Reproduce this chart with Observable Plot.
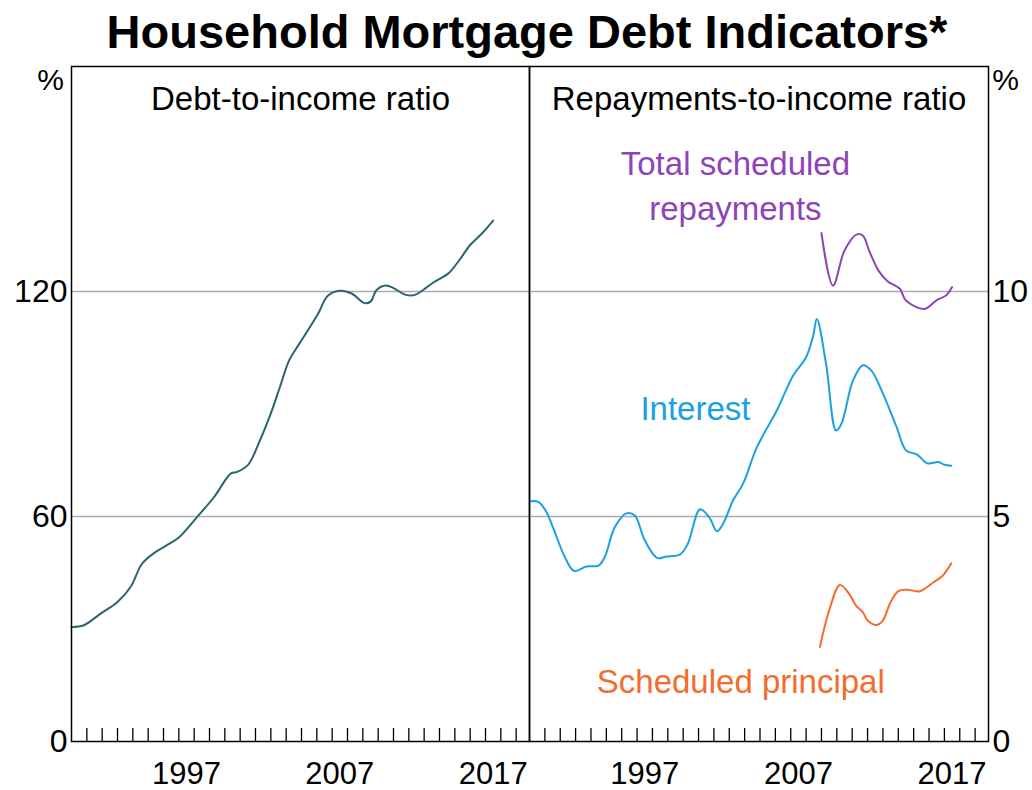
<!DOCTYPE html>
<html>
<head>
<meta charset="utf-8">
<script src="https://cdn.jsdelivr.net/npm/d3@7"></script>
<script src="https://cdn.jsdelivr.net/npm/@observablehq/plot@0.6"></script>
<style>
  html, body { margin: 0; padding: 0; background: #fff; }
  #wrap { position: relative; width: 1032px; height: 790px; font-family: "Liberation Sans", Arial, sans-serif; }
  #title { position: absolute; left: 11px; top: 8px; width: 1032px; text-align: center; font-weight: bold; font-size: 47px; line-height: 47px; color: #000; }
  .panel { position: absolute; top: 60px; }
</style>
</head>
<body>
<div id="wrap">
  <div id="title">Household Mortgage Debt Indicators*</div>
  <div id="left" class="panel" style="left:0px"></div>
  <div id="right" class="panel" style="left:528px"></div>
</div>
<script>
// ---------- data ----------
const dtiYears = [1990.0, 1990.8, 1991.9, 1993.0, 1993.85, 1994.6, 1995.4, 1996.2, 1997.0, 1998.2, 1999.3, 2000.4, 2000.8, 2001.5, 2002.3, 2003.0, 2003.6, 2004.2, 2004.8, 2005.5, 2006.1, 2006.7, 2007.5, 2008.3, 2009.1, 2009.5, 2009.9, 2010.5, 2011.0, 2011.8, 2012.4, 2013.0, 2013.6, 2014.6, 2015.3, 2016.0, 2016.8, 2017.5];
const dtiValues = [30.5, 31.0, 34.1, 37.2, 41.2, 47.4, 50.3, 52.3, 54.4, 59.9, 65.2, 71.5, 71.9, 73.7, 80.4, 87.5, 94.6, 101.7, 105.7, 110.2, 114.2, 118.8, 120.2, 119.4, 116.9, 117.3, 120.4, 121.6, 120.9, 119.1, 119.1, 120.6, 122.4, 124.9, 128.4, 132.4, 135.6, 138.9];

const interestYears = [1990.1, 1990.6, 1991.1, 1991.6, 1992.3, 1992.9, 1993.7, 1994.5, 1994.9, 1995.55, 1996.3, 1996.85, 1997.5, 1998.3, 1998.9, 1999.8, 2000.3, 2001.1, 2001.7, 2002.2, 2002.6, 2003.25, 2003.9, 2004.8, 2006.1, 2007.15, 2008.0, 2008.45, 2008.7, 2009.3, 2009.95, 2010.3, 2011.05, 2011.7, 2012.25, 2013.0, 2013.9, 2014.5, 2015.2, 2015.9, 2016.6, 2017.0, 2017.45];
const interestValues = [5.34, 5.32, 5.10, 4.69, 4.10, 3.79, 3.89, 3.91, 4.10, 4.76, 5.07, 5.02, 4.47, 4.08, 4.11, 4.16, 4.39, 5.16, 4.98, 4.67, 4.84, 5.36, 5.73, 6.54, 7.36, 8.13, 8.54, 9.00, 9.39, 8.39, 6.91, 7.06, 8.02, 8.36, 8.24, 7.73, 6.98, 6.47, 6.38, 6.18, 6.21, 6.15, 6.13];

const totalYears = [2009.0, 2009.75, 2010.5, 2011.3, 2011.7, 2012.1, 2012.7, 2013.3, 2014.1, 2014.5, 2015.7, 2016.5, 2017.1, 2017.5];
const totalValues = [11.30, 10.13, 10.91, 11.27, 11.24, 10.91, 10.47, 10.23, 10.06, 9.80, 9.61, 9.81, 9.91, 10.10];

const principalYears = [2008.9, 2009.5, 2010.2, 2010.8, 2011.25, 2011.7, 2012.0, 2012.6, 2013.0, 2013.45, 2014.0, 2014.6, 2015.4, 2016.3, 2016.9, 2017.45];
const principalValues = [2.10, 2.91, 3.48, 3.28, 3.02, 2.87, 2.69, 2.59, 2.69, 3.06, 3.34, 3.37, 3.34, 3.54, 3.69, 3.96];

const yearTicks = d3.range(1991, 2020);          // minor tick marks at year starts
const yearLabels = [1997, 2007, 2017];           // labelled years
const leftTicks = [0, 60, 120];
const rightTicks = [0, 5, 10];
const panelTitles = ["Debt-to-income ratio", "Repayments-to-income ratio"];
const seriesLabels = [
  {label: "Total scheduled\nrepayments", x: 2003.4, y: 12.41, color: "#8e44b8"},
  {label: "Interest", x: 2000.8, y: 7.47, color: "#1ba1df"},
  {label: "Scheduled principal", x: 2003.75, y: 1.4, color: "#f36c2b"}
];
const colors = {dti: "#2c6470", interest: "#1ba1df", total: "#8e44b8", principal: "#f36c2b"};

const zip = (xs, ys) => xs.map((x, i) => ({year: x, value: ys[i]}));
const dti = zip(dtiYears, dtiValues);
const interest = zip(interestYears, interestValues);
const total = zip(totalYears, totalValues);
const principal = zip(principalYears, principalValues);

const xDomain = [1990, 2019.87];
const FONT = "'Liberation Sans', Arial, sans-serif";
const style = {fontFamily: FONT, fontSize: "32px", color: "#000", background: "transparent", overflow: "visible"};
const gridStyle = {stroke: "#ababab", strokeWidth: 1.5, strokeOpacity: 1};

function xAxes() {
  return [
    Plot.axisX(yearTicks, {tickSize: -13, tickFormat: () => "", label: null, stroke: "#000", strokeWidth: 1.3}),
    Plot.axisX(yearLabels.map(y => y + 0.5), {tickSize: 0, tickPadding: 20, label: null, tickFormat: d => String(Math.floor(d)), fontSize: 31, fill: "#000"})
  ];
}

const left = Plot.plot({
  width: 529, height: 730,
  marginLeft: 71, marginRight: 0, marginTop: 6, marginBottom: 49,
  x: {domain: xDomain, label: null},
  y: {domain: [0, 180], label: null},
  style,
  marks: [
    Plot.ruleY(leftTicks.filter(d => d > 0), gridStyle),
    Plot.line(dti, {x: "year", y: "value", stroke: colors.dti, strokeWidth: 2, curve: "catmull-rom"}),
    ...xAxes(),
    Plot.axisY(leftTicks, {anchor: "left", tickSize: 0, tickPadding: 4, label: null, fontSize: 32, fill: "#000"}),
    Plot.frame({stroke: "#000", strokeWidth: 1.5}),
    Plot.text([panelTitles[0]], {frameAnchor: "top", textAnchor: "middle", lineAnchor: "middle", dy: 33, fontSize: 33, fill: "#000"}),
    Plot.text(["%"], {frameAnchor: "top-left", textAnchor: "middle", lineAnchor: "middle", dx: -21, dy: 14, fontSize: 30, fill: "#000"})
  ]
});

const right = Plot.plot({
  width: 504, height: 730,
  marginLeft: 1, marginRight: 44, marginTop: 6, marginBottom: 49,
  x: {domain: xDomain, label: null},
  y: {domain: [0, 15], label: null},
  style,
  marks: [
    Plot.ruleY(rightTicks.filter(d => d > 0), gridStyle),
    Plot.line(total, {x: "year", y: "value", stroke: colors.total, strokeWidth: 2, curve: "catmull-rom"}),
    Plot.line(interest, {x: "year", y: "value", stroke: colors.interest, strokeWidth: 2, curve: "catmull-rom"}),
    Plot.line(principal, {x: "year", y: "value", stroke: colors.principal, strokeWidth: 2, curve: "catmull-rom"}),
    ...xAxes(),
    Plot.axisY(rightTicks, {anchor: "right", tickSize: 0, tickPadding: 4, label: null, fontSize: 32, fill: "#000"}),
    Plot.frame({stroke: "#000", strokeWidth: 1.5}),
    Plot.text([panelTitles[1]], {frameAnchor: "top", textAnchor: "middle", lineAnchor: "middle", dy: 33, fontSize: 33, fill: "#000"}),
    Plot.text(["%"], {frameAnchor: "top-right", textAnchor: "middle", lineAnchor: "middle", dx: 17, dy: 14, fontSize: 30, fill: "#000"}),
    Plot.text(seriesLabels, {x: "x", y: "y", text: "label", fill: "color", fontSize: 33, lineHeight: 1.36, textAnchor: "middle", lineAnchor: "middle"})
  ]
});

document.getElementById("left").appendChild(left);
document.getElementById("right").appendChild(right);
</script>
</body>
</html>
